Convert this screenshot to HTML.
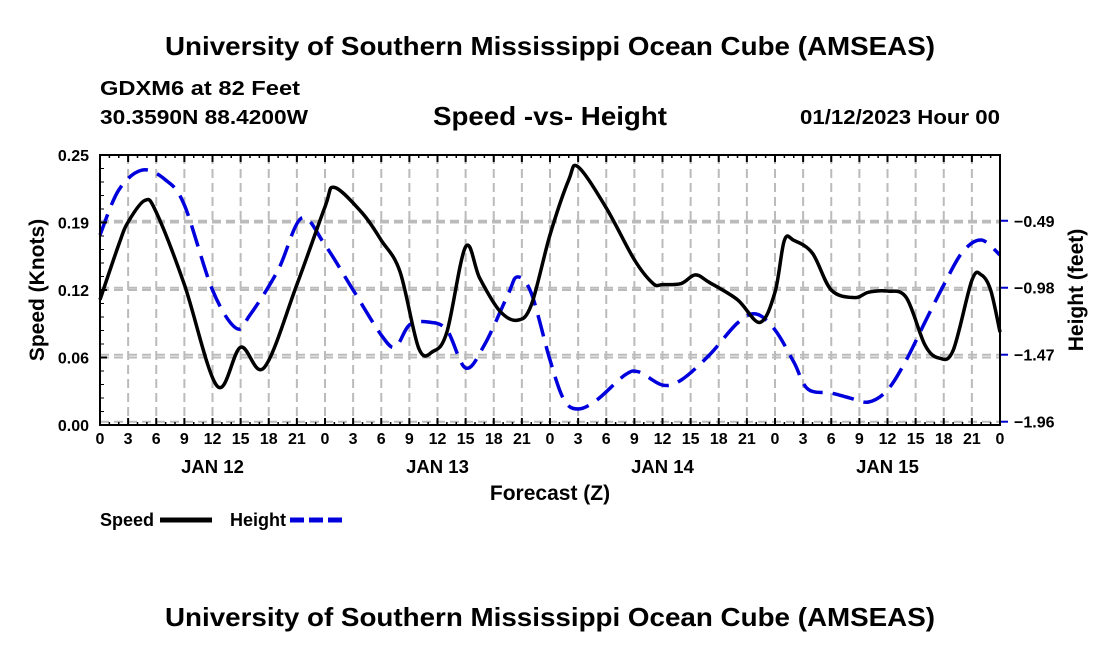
<!DOCTYPE html>
<html><head><meta charset="utf-8"><style>
body{margin:0;background:#fff;}
svg text{font-family:"Liberation Sans",sans-serif;font-weight:bold;fill:#000;}
</style></head><body>
<svg id="c" width="1100" height="650" viewBox="0 0 1100 650" xmlns="http://www.w3.org/2000/svg">
<text x="165" y="55" font-size="26" textLength="770" lengthAdjust="spacingAndGlyphs">University of Southern Mississippi Ocean Cube (AMSEAS)</text>
<text x="100" y="95" font-size="20" textLength="200" lengthAdjust="spacingAndGlyphs">GDXM6 at 82 Feet</text>
<text x="100" y="124" font-size="20" textLength="208" lengthAdjust="spacingAndGlyphs">30.3590N  88.4200W</text>
<text x="433" y="125" font-size="26" textLength="234" lengthAdjust="spacingAndGlyphs">Speed -vs- Height</text>
<text x="800" y="124" font-size="20" textLength="200" lengthAdjust="spacingAndGlyphs">01/12/2023 Hour 00</text>
<text x="165" y="626" font-size="26" textLength="770" lengthAdjust="spacingAndGlyphs">University of Southern Mississippi Ocean Cube (AMSEAS)</text>
<g id="grid"></g>
<g id="series"></g>
<g id="axes"></g>
<text x="550" y="500" font-size="21" text-anchor="middle">Forecast (Z)</text>
<text transform="translate(44,290) rotate(-90)" font-size="21" text-anchor="middle">Speed (Knots)</text>
<text transform="translate(1083,290) rotate(-90)" font-size="21" text-anchor="middle">Height (feet)</text>
<g>
<text x="100" y="526" font-size="18">Speed</text>
<line x1="160" y1="520" x2="212" y2="520" stroke="#000" stroke-width="5"/>
<text x="230" y="526" font-size="18">Height</text>
<line x1="290" y1="520" x2="342" y2="520" stroke="#0000dd" stroke-width="5" stroke-dasharray="14,5"/>
</g>
</svg>
<script>
const speedHours=[0,2,3,4.8,6,9,12.5,15,17.5,21,24,25,28,30,32,34,35.5,37,39,40.5,42.6,44.5,46,48,50,51,54,57,59,60,62,63.5,65,68,70.4,72,73,74,76,78,80.5,82,84,86,88,89.5,91,93,94,95,96];
const speedValues=[0.116,0.167,0.188,0.208,0.197,0.130,0.036,0.072,0.053,0.130,0.202,0.220,0.196,0.171,0.142,0.071,0.068,0.086,0.165,0.136,0.106,0.097,0.111,0.176,0.227,0.239,0.201,0.153,0.131,0.130,0.131,0.139,0.132,0.116,0.095,0.123,0.171,0.171,0.159,0.125,0.118,0.123,0.124,0.118,0.074,0.062,0.069,0.134,0.139,0.125,0.086];
const heightHours=[0,2,4.5,7,9,12,14.5,16,19,21.5,24,27,30,31.5,33,35,37,39,41,43.5,44.5,46,48,49.5,51,53,56,57.5,60,62,65,68,70,72,74,75.5,78,80,82,84,86,88,90,92,94,96];
const heightValues=[-0.594,-0.265,-0.119,-0.192,-0.375,-0.997,-1.275,-1.179,-0.850,-0.470,-0.667,-0.997,-1.326,-1.414,-1.253,-1.231,-1.289,-1.567,-1.399,-1.033,-0.901,-1.019,-1.509,-1.801,-1.867,-1.801,-1.618,-1.596,-1.692,-1.655,-1.472,-1.238,-1.172,-1.289,-1.523,-1.721,-1.750,-1.787,-1.816,-1.728,-1.509,-1.231,-0.960,-0.719,-0.631,-0.741];
const speedTicks=[0,0.0625,0.125,0.1875,0.25];
const speedTickLabels=["0.00","0.06","0.12","0.19","0.25"];
const heightTicks=[-1.96,-1.47,-0.98,-0.49];
const heightTickLabels=["\u22121.96","\u22121.47","\u22120.98","\u22120.49"];
const dayLabels=["JAN 12","JAN 13","JAN 14","JAN 15"];

const L=100,R=1000,T=155,B=425,NS='http://www.w3.org/2000/svg';
const xS=h=>L+(R-L)*h/96;
const yS=v=>B-(B-T)*v/0.25;
const yH=v=>421.7-(v+1.96)*136.7;
function mk(tag,attrs,parent,txt){const e=document.createElementNS(NS,tag);for(const k in attrs)e.setAttribute(k,attrs[k]);if(txt!==undefined)e.textContent=txt;parent.appendChild(e);return e;}
const grid=document.getElementById('grid'),axes=document.getElementById('axes'),series=document.getElementById('series');
const gs={stroke:'#bbb','stroke-width':2,'stroke-dasharray':'9,5'};
for(let h=3;h<96;h+=3){const e=mk('line',Object.assign({x1:xS(h),x2:xS(h),y1:T,y2:B},gs),grid);

}
speedTicks.forEach((v,i)=>{if(i>0&&i<4){const e=mk('line',Object.assign({x1:L,x2:R,y1:yS(v),y2:yS(v)},gs),grid);

}
const t=mk('text',{x:L-11,y:yS(v)+6,'font-size':16,'text-anchor':'end'},axes,speedTickLabels[i]);


const k=mk('line',{x1:L,x2:L+7,y1:yS(v),y2:yS(v),stroke:'#000','stroke-width':2},axes);

});
heightTicks.forEach((v,i)=>{const e=mk('line',Object.assign({x1:L,x2:R,y1:yH(v),y2:yH(v)},gs),grid);


const k=mk('line',{x1:R,x2:R+8,y1:yH(v),y2:yH(v),stroke:'#0000cc','stroke-width':2},axes);


const t=mk('text',{x:R+14,y:yH(v)+6,'font-size':16},axes,heightTickLabels[i]);

});
for(let v=0;v<=0.25;v+=0.0125){const k=mk('line',{x1:L,x2:L+4,y1:yS(v),y2:yS(v),stroke:'#000','stroke-width':1},axes);

}
for(let h=0;h<=96;h++){const maj=h%3===0;
const k1=mk('line',{x1:xS(h),x2:xS(h),y1:B,y2:B-(maj?7:3),stroke:'#000','stroke-width':maj?2:1.5},axes);


const k2=mk('line',{x1:xS(h),x2:xS(h),y1:T,y2:T+(maj?7:3),stroke:'#000','stroke-width':maj?2:1.5},axes);


if(maj){const t=mk('text',{x:xS(h),y:B+19,'font-size':16,'text-anchor':'middle'},axes,String(h%24));

}}
dayLabels.forEach((d,i)=>{const t=mk('text',{x:xS(12+24*i),y:473,'font-size':18.5,'text-anchor':'middle'},axes,d);

});
const fr=mk('rect',{x:L,y:T,width:R-L,height:B-T,fill:'none',stroke:'#000','stroke-width':2},axes);


function smooth(pts){let d='M'+pts[0][0]+','+pts[0][1];for(let i=0;i<pts.length-1;i++){const p0=pts[i-1]||pts[i],p1=pts[i],p2=pts[i+1],p3=pts[i+2]||p2;
d+=' C'+(p1[0]+(p2[0]-p0[0])/6)+','+(p1[1]+(p2[1]-p0[1])/6)+' '+(p2[0]-(p3[0]-p1[0])/6)+','+(p2[1]-(p3[1]-p1[1])/6)+' '+p2[0]+','+p2[1];}return d;}
const hp=mk('path',{d:smooth(heightHours.map((h,i)=>[xS(h),yH(heightValues[i])])),fill:'none',stroke:'#0000dd','stroke-width':3.5,'stroke-dasharray':'22,10'},series);


const sp=mk('path',{d:smooth(speedHours.map((h,i)=>[xS(h),yS(speedValues[i])])),fill:'none',stroke:'#000','stroke-width':3.5},series);


</script>
</body></html>
